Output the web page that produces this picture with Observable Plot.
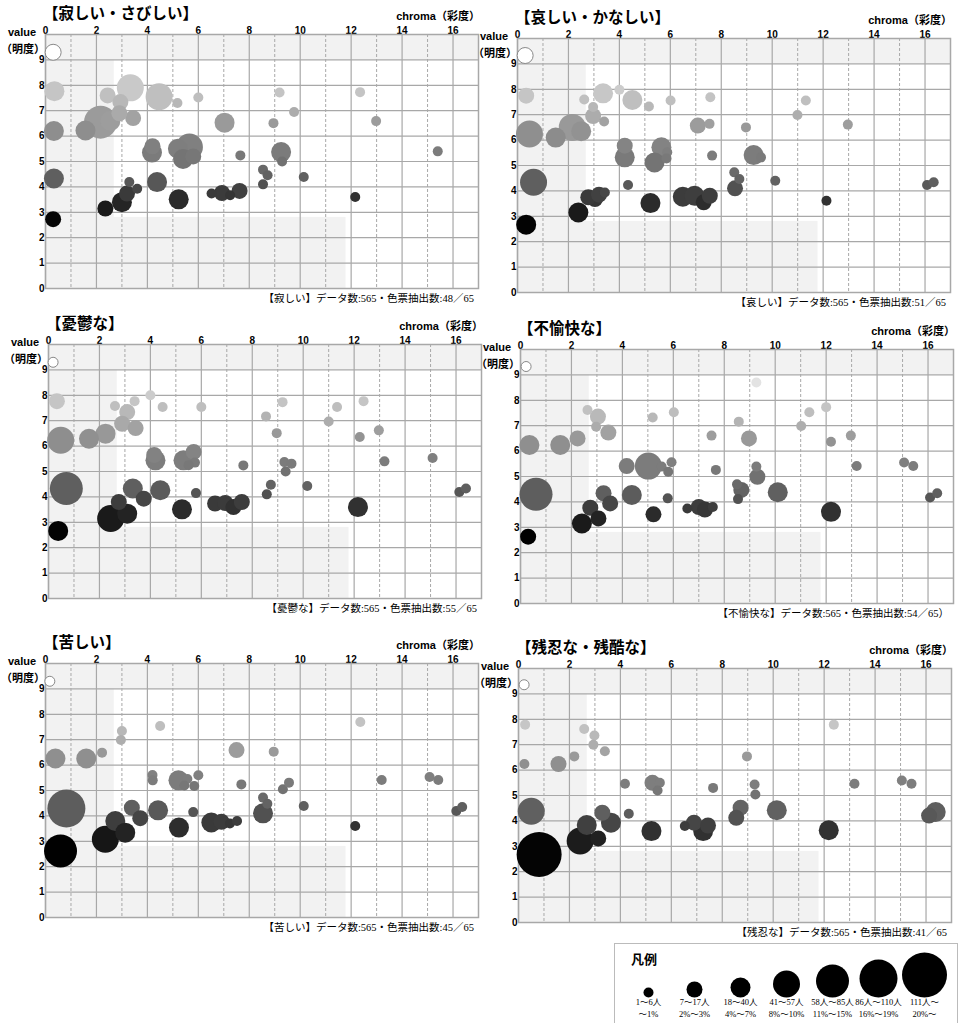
<!DOCTYPE html>
<html><head><meta charset="utf-8">
<script src="https://cdn.jsdelivr.net/npm/d3@7"></script>
<script src="https://cdn.jsdelivr.net/npm/@observablehq/plot@0.6"></script>
<style>
body{margin:0;background:#fff;width:970px;height:1023px;position:relative;overflow:hidden;font-family:"Liberation Sans","Noto Sans CJK JP",sans-serif;}
.panel{position:absolute;width:485px;height:310px;}
.panel svg{position:absolute;left:0;top:0;overflow:visible}
.lbl{position:absolute;line-height:1;white-space:nowrap;color:#000}
.title{font-family:"Noto Sans CJK JP",sans-serif;font-weight:bold;font-size:15.5px;left:43px;top:5px}
.val{font-weight:bold;font-size:11px;left:8px;top:27px}
.mei{font-family:"Noto Sans CJK JP",sans-serif;font-weight:bold;font-size:11px;left:1px;top:43px}
.chroma{font-weight:bold;font-size:11px;right:5px;top:11px}
.foot{font-family:"Liberation Serif","Noto Sans CJK JP",serif;font-size:10.5px;right:11px;top:294px}
#legend{position:absolute;left:614px;top:943px;width:344px;height:82px;border:1px solid #bbb;box-sizing:border-box;background:#fff}
#legend svg{position:absolute;left:0;top:0}
#legend .lt{position:absolute;left:16px;top:8px;font-family:"Noto Sans CJK JP",sans-serif;font-weight:bold;font-size:13px;line-height:1}
</style></head>
<body>
<script>
// ---- data: [chroma, value, size class] ----
const sabishii = [
 [0.3,9.3,2],[0.35,7.77,3],[2.44,7.6,2],[3.33,7.9,4],[4.46,7.55,4],[5.18,7.3,1],[6.0,7.52,1],
 [9.19,7.72,1],[12.35,7.73,1],[9.76,6.95,1],[8.95,6.51,1],[12.98,6.59,1],[2.94,7.34,2],[3.44,6.71,2],
 [1.57,6.22,3],[2.16,6.55,5],[2.55,6.6,3],[2.9,6.9,2],[0.33,6.2,3],[7.03,6.53,3],[4.2,5.6,2],
 [4.18,5.35,3],[5.2,5.5,3],[5.4,5.1,3],[5.65,5.57,4],[5.8,5.2,2],[7.65,5.24,1],[9.25,5.37,3],
 [9.29,5.0,1],[15.4,5.4,1],[0.33,4.33,3],[3.29,4.19,1],[3.6,3.93,1],[4.38,4.19,3],[3.2,3.74,2],
 [3.0,3.4,3],[2.35,3.15,2],[5.23,3.51,3],[6.52,3.74,1],[6.93,3.76,2],[7.25,3.67,1],[7.62,3.84,2],
 [8.54,4.68,1],[8.72,4.46,1],[8.54,4.1,1],[10.14,4.39,1],[12.16,3.6,1],[0.3,2.73,2]
];
const kanashii = [
 [0.3,9.33,2],[0.34,7.75,2],[2.62,7.6,1],[3.36,7.84,3],[4.0,7.98,1],[4.51,7.58,3],[5.16,7.32,1],
 [6.01,7.56,1],[7.57,7.69,1],[11.32,7.56,1],[10.99,6.99,1],[12.97,6.61,1],[8.97,6.5,1],[7.08,6.57,2],
 [7.54,6.64,1],[2.97,7.3,1],[2.97,6.95,2],[3.4,6.73,1],[2.15,6.5,4],[1.5,6.1,3],[2.5,6.35,3],
 [0.47,6.24,4],[4.21,5.78,2],[4.21,5.32,3],[5.65,5.72,3],[5.38,5.12,3],[5.88,5.52,1],[5.85,5.28,1],
 [7.64,5.39,1],[9.27,5.41,3],[9.56,5.32,1],[0.63,4.34,4],[4.34,4.23,1],[8.51,4.73,1],[8.71,4.47,1],
 [8.54,4.1,2],[10.12,4.4,1],[16.08,4.23,1],[16.34,4.34,1],[12.13,3.61,1],[3.04,3.68,2],[2.78,3.75,2],
 [3.43,3.94,1],[3.2,3.85,2],[2.39,3.15,3],[5.22,3.52,3],[6.49,3.77,3],[6.95,3.81,3],[7.31,3.55,2],
 [7.55,3.81,2],[0.34,2.67,3]
];
const yuutsu = [
 [0.18,9.3,1],[0.33,7.77,2],[2.61,7.58,1],[3.38,7.77,1],[4.0,8.0,1],[4.48,7.54,1],[6.0,7.54,1],
 [9.19,7.73,1],[12.37,7.77,1],[11.33,7.54,1],[11.0,6.97,1],[12.97,6.62,1],[8.96,6.51,1],[8.54,7.17,1],
 [3.09,7.34,2],[2.89,6.88,2],[3.42,6.71,2],[2.24,6.49,3],[1.59,6.29,3],[0.48,6.23,4],[12.22,6.36,1],
 [4.2,5.44,3],[4.15,5.65,2],[5.3,5.44,3],[5.7,5.77,2],[5.75,5.35,1],[5.5,5.25,1],[7.65,5.24,1],
 [9.26,5.37,1],[9.54,5.31,1],[9.31,5.0,1],[15.08,5.53,1],[13.19,5.4,1],[0.7,4.33,5],[3.31,4.33,3],
 [3.74,3.93,2],[2.76,3.8,2],[3.09,3.34,3],[2.44,3.15,4],[4.39,4.26,3],[5.79,4.15,1],[5.24,3.51,3],
 [6.54,3.74,2],[6.94,3.76,2],[7.26,3.6,2],[7.59,3.8,2],[8.57,4.1,1],[8.73,4.48,1],[10.16,4.43,1],
 [12.15,3.6,3],[16.13,4.19,1],[16.39,4.33,1],[0.38,2.66,3]
];
const fuyukai = [
 [0.22,9.33,1],[9.26,8.7,1],[2.63,7.62,1],[3.04,7.36,2],[2.97,6.96,1],[3.45,6.73,2],[5.19,7.32,1],
 [6.02,7.53,1],[8.57,7.16,1],[11.34,7.53,1],[12.0,7.73,1],[11.02,6.99,1],[12.97,6.61,1],[8.97,6.5,2],
 [7.5,6.61,1],[12.19,6.37,1],[2.24,6.5,2],[1.56,6.24,3],[0.35,6.24,3],[4.17,5.41,2],[5.02,5.41,4],
 [5.54,5.39,1],[5.8,5.19,1],[5.93,5.56,1],[7.67,5.26,1],[9.26,5.39,1],[9.3,4.99,2],[13.2,5.41,1],
 [15.06,5.55,1],[15.42,5.41,1],[0.61,4.3,5],[3.26,4.34,2],[3.52,3.94,2],[2.74,3.77,2],[3.06,3.35,2],
 [2.41,3.15,3],[4.37,4.27,3],[5.78,4.14,1],[5.22,3.51,2],[6.55,3.74,1],[7.0,3.8,2],[7.24,3.7,2],
 [7.55,3.8,1],[8.5,4.69,1],[8.67,4.47,2],[8.54,4.11,1],[10.1,4.38,3],[12.19,3.61,3],[16.08,4.17,1],
 [16.36,4.34,1],[0.3,2.63,2]
];
const kurushii = [
 [0.17,9.3,1],[12.36,7.7,1],[3.0,7.34,1],[2.96,6.99,1],[4.5,7.54,1],[7.5,6.59,2],[8.96,6.53,1],
 [2.22,6.49,1],[0.39,6.26,3],[1.6,6.26,3],[4.2,5.61,1],[4.21,5.4,1],[5.22,5.4,3],[5.57,5.45,1],
 [5.45,5.2,1],[5.84,5.18,1],[6.0,5.6,1],[7.69,5.24,1],[9.32,5.05,1],[9.56,5.31,1],[13.2,5.41,1],
 [15.08,5.53,1],[15.42,5.41,1],[0.82,4.29,6],[3.39,4.32,2],[3.72,3.91,2],[2.74,3.8,3],[3.13,3.34,3],
 [2.35,3.08,4],[4.42,4.22,3],[5.8,4.15,1],[5.24,3.54,3],[6.51,3.74,3],[6.91,3.77,2],[7.24,3.7,1],
 [7.52,3.8,1],[8.54,4.72,1],[8.71,4.48,1],[8.54,4.1,3],[10.14,4.39,1],[12.16,3.6,1],[16.13,4.19,1],
 [16.36,4.35,1],[0.59,2.62,5]
];
const zannin = [
 [0.22,9.36,1],[0.26,7.79,1],[2.58,7.62,1],[2.98,7.36,1],[2.94,7.0,1],[3.39,6.74,1],[2.19,6.54,1],
 [1.57,6.24,2],[0.23,6.24,1],[8.97,6.54,1],[12.38,7.79,1],[4.18,5.46,1],[5.26,5.5,2],[5.55,5.5,1],
 [5.46,5.2,1],[7.64,5.3,1],[9.27,5.43,1],[9.3,5.04,1],[13.19,5.46,1],[15.05,5.59,1],[15.43,5.46,1],
 [0.5,4.38,4],[4.33,4.28,1],[3.29,4.32,2],[3.63,3.93,3],[2.68,3.84,3],[3.13,3.31,2],[2.42,3.21,4],
 [5.22,3.6,3],[6.53,3.8,1],[6.89,3.93,2],[7.25,3.6,3],[7.44,3.82,2],[8.72,4.52,2],[8.55,4.12,2],
 [10.14,4.42,3],[12.18,3.63,3],[16.12,4.21,2],[16.38,4.35,3],[0.81,2.68,7]
];

const titles = ["【寂しい・さびしい】","【哀しい・かなしい】","【憂鬱な】","【不愉快な】","【苦しい】","【残忍な・残酷な】"];
const footers = [
 "【寂しい】データ数:565・色票抽出数:48／65",
 "【哀しい】データ数:565・色票抽出数:51／65",
 "【憂鬱な】データ数:565・色票抽出数:55／65",
 "【不愉快な】データ数:565・色票抽出数:54／65）",
 "【苦しい】データ数:565・色票抽出数:45／65",
 "【残忍な】データ数:565・色票抽出数:41／65"
];
const chromaMajor = [0,2,4,6,8,10,12,14,16];
const chromaMinor = [1,3,5,7,9,11,13,15];
const valueTicks = [0,1,2,3,4,5,6,7,8,9];
const valueGrid = [1,2,3,4,5,6,7,8,9];
const sizeClasses = [1,2,3,4,5,6,7];
const legendLabels = ["1～6人\n～1%","7～17人\n2%～3%","18～40人\n4%～7%","41～57人\n8%～10%","58人～85人\n11%～15%","86人～110人\n16%～19%","111人～\n20%～"];
// Munsell tone regions shaded in the background (chroma / value bounds)
const bgRegions = [
 {c1:0,c2:17,v1:9,v2:10},
 {c1:0,c2:2.7,v1:0,v2:9},
 {c1:0,c2:11.8,v1:0,v2:2.8}
];

const rOptions = {type:"linear", domain: sizeClasses, range:[5,8,10,13.5,16.5,19,22.5]};
const colorOptions = {type:"linear", domain:[2.6,3.5,4.3,5.4,6.3,7.0,7.8,8.8,9.3],
  range:["#000000","#2a2a2a","#5e5e5e","#7c7c7c","#909090","#aeaeae","#c6c6c6","#e6e6e6","#ffffff"]};

const datasets = [sabishii,kanashii,yuutsu,fuyukai,kurushii,zannin];
const offsets = [[0,0],[472,4],[3,310],[475,315],[0,629],[473,634]];

function makePanel(data){
  const grid = "#a8a8a8";
  return Plot.plot({
    width:485, height:310,
    marginLeft:45, marginRight:7, marginTop:34, marginBottom:22,
    style:{background:"transparent", fontFamily:"Liberation Sans, Arial, sans-serif", fontSize:"10px", fontWeight:"bold", color:"#000", overflow:"visible"},
    x:{domain:[0,17], axis:"top", ticks:chromaMajor, tickSize:0, tickPadding:1, label:null, tickFormat:d=>String(d)},
    y:{domain:[0,10], ticks:valueTicks, tickSize:0, tickPadding:1, label:null, tickFormat:d=>String(d)},
    r:rOptions,
    color:colorOptions,
    marks:[
      Plot.rect(bgRegions,{x1:"c1",x2:"c2",y1:"v1",y2:"v2",fill:"#f2f2f2"}),
      Plot.ruleX(chromaMinor,{stroke:grid, strokeDasharray:"3,2", strokeWidth:1}),
      Plot.ruleX(chromaMajor,{stroke:grid, strokeWidth:1.2}),
      Plot.ruleY(valueGrid,{stroke:grid, strokeWidth:1.2}),
      Plot.frame({stroke:grid, strokeWidth:1.5}),
      Plot.dot(data.filter(d=>d[1]<9),{x:d=>d[0], y:d=>d[1], r:d=>d[2], fill:d=>d[1], stroke:"none"}),
      Plot.dot(data.filter(d=>d[1]>=9),{x:d=>d[0], y:d=>d[1], r:d=>d[2], fill:"#fff", stroke:"#888", strokeWidth:1})
    ]
  });
}

datasets.forEach((data,i)=>{
  const div = document.createElement("div");
  div.className = "panel";
  div.style.left = offsets[i][0]+"px";
  div.style.top = offsets[i][1]+"px";
  div.appendChild(makePanel(data));
  const add = (cls, txt) => { const e=document.createElement("div"); e.className="lbl "+cls; e.textContent=txt; div.appendChild(e); };
  add("title", titles[i]);
  add("val", "value");
  add("mei", "（明度）");
  add("chroma", "chroma（彩度）");
  add("foot", footers[i]);
  document.body.appendChild(div);
});

// legend
const legend = document.createElement("div");
legend.id = "legend";
const lt = document.createElement("div"); lt.className="lt"; lt.textContent="凡例"; legend.appendChild(lt);
const legendItems = sizeClasses.map((c,i)=>({cls:c, label:legendLabels[i]}));
const rScale = Plot.scale({r:rOptions});
legend.appendChild(Plot.plot({
  width:342, height:80, margin:0,
  style:{background:"transparent", fontFamily:"Liberation Serif, Noto Sans CJK JP, serif", fontSize:"8.5px", color:"#000"},
  x:{type:"point", domain:legendLabels, range:[31,310], padding:0, axis:null},
  y:{type:"identity", axis:null},
  r:rOptions,
  marks:[
    Plot.dot(legendItems,{x:"label", y:d=>53 - rScale.apply(d.cls), r:"cls", fill:"#000"}),
    Plot.text(legendItems,{x:"label", text:"label", frameAnchor:"bottom", lineAnchor:"bottom", dy:-8, fontSize:8.5, lineHeight:1.3})
  ]
}));
document.body.appendChild(legend);
</script>
</body></html>
